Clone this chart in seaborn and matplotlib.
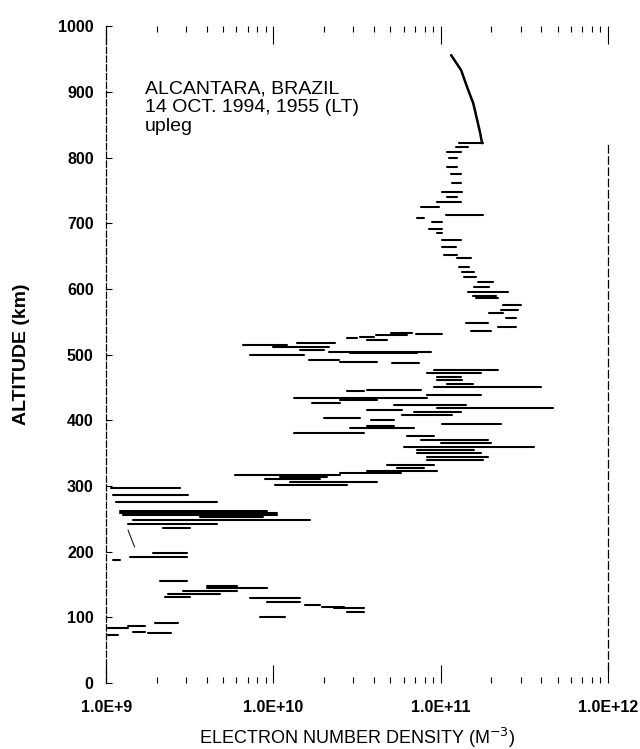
import numpy as np
import pandas as pd
import matplotlib
matplotlib.use('Agg')
import matplotlib.pyplot as plt
import seaborn as sns

# Upleg electron density profile.
# Each noisy step of the profile is a short horizontal segment:
# altitude (km) and log10 of the left / right density (m^-3).
seg_alt = [822, 816, 808, 800, 785, 775, 762, 747, 740, 732, 725, 712, 708, 702, 692, 685,
           674, 664, 651, 647, 633, 626, 618, 610, 603, 595, 590, 586, 575, 568, 563, 556,
           548, 542, 536, 533, 532, 530, 527, 525, 522, 518, 514, 511, 507, 504, 502, 499,
           492, 489, 487, 476, 472, 466, 461, 456, 451, 446, 444, 438, 434, 431, 426, 423,
           419, 415, 413, 408, 403, 400, 394, 391, 388, 380, 376, 370, 365, 360, 355, 350,
           344, 340, 332, 327, 323, 320, 317, 314, 310, 306, 301,
           297, 286, 276, 262, 259, 256, 253, 248, 242, 236, 198, 192, 187,
           155, 148, 145, 140, 135, 131, 129, 123, 119, 116, 114, 108, 100,
           91, 87, 84, 78, 76, 73]
seg_lo = [11.11, 11.09, 11.04, 11.05, 11.04, 11.06, 11.07, 11.01, 11.04, 10.98, 10.88, 11.03, 10.86, 10.95, 10.93, 10.98,
          11.01, 11.01, 11.02, 11.10, 11.11, 11.13, 11.14, 11.22, 11.20, 11.16, 11.19, 11.21, 11.37, 11.36, 11.29, 11.39,
          11.15, 11.34, 11.18, 10.70, 10.85, 10.61, 10.52, 10.44, 10.56, 10.14, 9.82, 10.00, 10.16, 10.33, 10.46, 9.86,
          10.21, 10.40, 10.71, 10.96, 10.92, 10.98, 10.98, 11.04, 10.96, 10.56, 10.44, 10.92, 10.12, 10.40, 10.23, 10.72,
          10.98, 10.56, 10.84, 10.77, 10.30, 10.58, 11.01, 10.56, 10.46, 10.12, 10.80, 10.88, 11.00, 10.78, 10.86, 10.86,
          10.92, 10.92, 10.68, 10.74, 10.56, 10.40, 9.77, 10.04, 9.95, 10.10, 10.01,
          9.03, 9.04, 9.06, 9.08, 9.08, 9.10, 9.56, 9.16, 9.13, 9.34, 9.28, 9.14, 9.04,
          9.32, 9.60, 9.60, 9.46, 9.37, 9.35, 9.86, 9.96, 10.19, 10.29, 10.36, 10.44, 9.92,
          9.29, 9.13, 9.01, 9.16, 9.25, 9.01]
seg_hi = [11.25, 11.16, 11.12, 11.10, 11.10, 11.12, 11.12, 11.13, 11.10, 11.12, 10.99, 11.25, 10.90, 11.01, 11.01, 11.01,
          11.12, 11.09, 11.10, 11.18, 11.17, 11.20, 11.21, 11.31, 11.29, 11.40, 11.33, 11.34, 11.48, 11.46, 11.37, 11.45,
          11.28, 11.45, 11.30, 10.83, 11.01, 10.80, 10.60, 10.50, 10.68, 10.37, 10.08, 10.33, 10.30, 10.94, 10.86, 10.18,
          10.39, 10.62, 10.87, 11.34, 11.24, 11.12, 11.13, 11.19, 11.60, 10.88, 10.54, 11.24, 10.92, 10.62, 10.40, 11.15,
          11.67, 10.77, 11.12, 11.07, 10.52, 10.72, 11.36, 10.72, 10.84, 10.54, 10.96, 11.28, 11.30, 11.56, 11.20, 11.24,
          11.28, 11.25, 10.96, 10.90, 10.98, 10.76, 10.40, 10.32, 10.28, 10.62, 10.44,
          9.44, 9.49, 9.66, 9.96, 10.02, 10.02, 9.94, 10.22, 9.66, 9.50, 9.48, 9.48, 9.08,
          9.48, 9.78, 9.96, 9.78, 9.68, 9.50, 10.16, 10.16, 10.28, 10.42, 10.54, 10.54, 10.07,
          9.43, 9.23, 9.13, 9.23, 9.39, 9.07]

# smooth top of the profile (above ~820 km)
cap_alt = [956, 933, 907, 883, 857, 837, 822]
cap_logn = [11.062, 11.122, 11.158, 11.194, 11.218, 11.236, 11.247]

# faint trace near 200-230 km
trace_alt = [233, 220, 207]
trace_logn = [9.13, 9.15, 9.17]

x_ticks = [1e9, 1e10, 1e11, 1e12]
x_labels = ['1.0E+9', '1.0E+10', '1.0E+11', '1.0E+12']
y_ticks = list(range(0, 1001, 100))

# long form table: two rows per segment
rows = []
for i, (a, lo, hi) in enumerate(zip(seg_alt, seg_lo, seg_hi)):
    rows.append({'seg': i, 'density': 10 ** lo, 'altitude': a})
    rows.append({'seg': i, 'density': 10 ** hi, 'altitude': a})
segs = pd.DataFrame(rows)
cap = pd.DataFrame({'density': 10 ** np.array(cap_logn), 'altitude': cap_alt})
trace = pd.DataFrame({'density': 10 ** np.array(trace_logn), 'altitude': trace_alt})

sns.set_theme(style='white')
plt.rcParams['font.family'] = ['Liberation Sans', 'DejaVu Sans']
plt.rcParams['text.color'] = 'black'
plt.rcParams['axes.labelcolor'] = 'black'
plt.rcParams['xtick.color'] = 'black'
plt.rcParams['ytick.color'] = 'black'

fig = plt.figure(figsize=(6.4, 7.49), dpi=100)
ax = fig.add_axes([0.166, 0.088, 0.784, 0.877])
ax.set_xscale('log')

sns.lineplot(data=segs, x='density', y='altitude', units='seg', estimator=None,
             sort=False, color='black', lw=1.5, ax=ax)
sns.lineplot(data=cap, x='density', y='altitude', estimator=None, sort=False,
             color='black', lw=1.8, ax=ax)
sns.lineplot(data=trace, x='density', y='altitude', estimator=None, sort=False,
             color='black', lw=0.7, ax=ax)

ax.set_xlim(1e9, 1e12)
ax.set_ylim(0, 1000)

# scanned-looking frame
for s in ['top', 'bottom']:
    ax.spines[s].set_visible(False)
ax.spines['left'].set_linestyle((0, (5, 2)))
ax.spines['left'].set_linewidth(0.9)
ax.spines['left'].set_color('black')
ax.spines['right'].set_linestyle((0, (6, 3)))
ax.spines['right'].set_linewidth(0.9)
ax.spines['right'].set_color('black')
ax.spines['right'].set_bounds(20, 820)

ax.set_xticks(x_ticks)
ax.set_xticklabels(x_labels)
ax.set_yticks(y_ticks)
ax.tick_params(axis='x', which='major', direction='in', top=True, bottom=True,
               length=13, width=0.8, color='black', pad=12)
ax.tick_params(axis='x', which='minor', direction='in', top=True, bottom=True,
               length=4, width=0.8, color='black')
ax.tick_params(axis='y', which='major', direction='in', left=True, length=4,
               width=0.8, color='black', pad=9)
for lab in ax.get_xticklabels() + ax.get_yticklabels():
    lab.set_fontsize(11.5)
    lab.set_fontweight('bold')
    lab.set_color('black')

ax.set_xlabel('ELECTRON NUMBER DENSITY (M$^{-3}$)', fontsize=13, labelpad=8,
              color='black')
ax.set_ylabel('ALTITUDE (km)', fontsize=14, fontweight='bold', labelpad=20,
              color='black')

ax.text(10 ** 9.233, 918, 'ALCANTARA, BRAZIL\n14 OCT. 1994, 1955 (LT)\nupleg',
        fontsize=14, va='top', ha='left', linespacing=1.15, color='black')

fig.savefig('out.png', dpi=100)
